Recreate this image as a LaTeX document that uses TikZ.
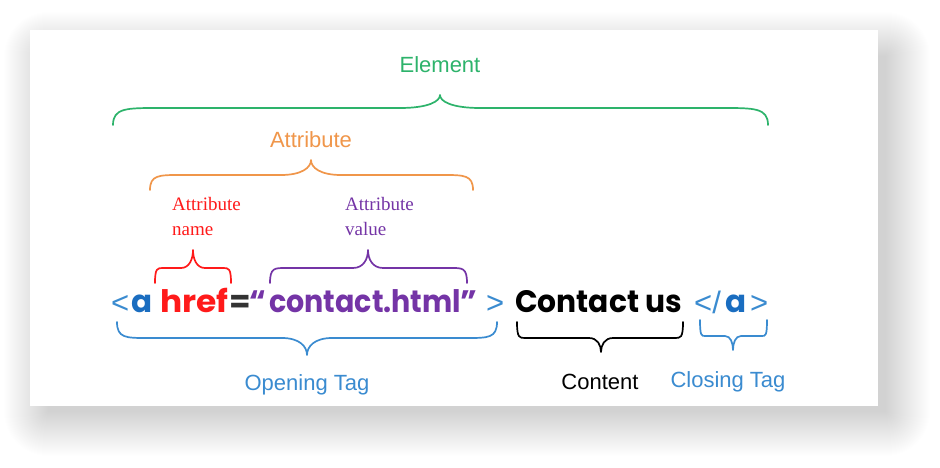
\documentclass[tikz,border=0pt]{standalone}
\usepackage{fontspec}
\setmainfont{Liberation Sans}
\newfontfamily\geo{Poppins}
\newfontfamily\serifx{Liberation Serif}
\definecolor{cgreen}{HTML}{2DB36B}
\definecolor{corange}{HTML}{F0964A}
\definecolor{cred}{HTML}{FF1A1A}
\definecolor{cpurple}{HTML}{7434A6}
\definecolor{cblue}{HTML}{3A8BD0}
\definecolor{cdblue}{HTML}{1A6DC0}
\definecolor{cgray}{HTML}{333333}
% brace: x1, x2, xtip, yend, ymid, ytip, r (end curve), s (tip curve)
\newcommand{\mybrace}[9][]{%
  \draw[#1] ({#2},{#5}) .. controls ({#2},{#6}) and ({#2+0.3*#8},{#6}) .. ({#2+#8},{#6})
    -- ({#4-#9},{#6}) .. controls ({#4-0.3*#9},{#6}) and ({#4},{0.5*#6+0.5*#7}) .. ({#4},{#7})
    .. controls ({#4},{0.5*#6+0.5*#7}) and ({#4+0.3*#9},{#6}) .. ({#4+#9},{#6})
    -- ({#3-#8},{#6}) .. controls ({#3-0.3*#8},{#6}) and ({#3},{#6}) .. ({#3},{#5});}
\tikzset{
  brc/.style={line width=1.7pt, line cap=round, line join=round},
  lbl/.style={font=\fontsize{22}{22}\selectfont, inner sep=0pt},
  slbl/.style={font=\serifx\fontsize{19}{24}\selectfont, inner sep=0pt, anchor=base west},
  code/.style={font=\geo\bfseries\fontsize{31}{31}\selectfont, inner sep=0pt, anchor=base west},
  codel/.style={font=\fontsize{31}{31}\selectfont, inner sep=0pt, anchor=base west},
}
\begin{document}
\begin{tikzpicture}[x=1pt,y=-1pt]
\useasboundingbox (0,0) rectangle (940,468);
\fill[white] (0,0) rectangle (940,468);
% shadow
\foreach \i in {0,1,...,44} {
  \fill[black, fill opacity=0.0055, rounded corners={\i*1pt+0.1pt}] ({48-\i},{56-\i}) rectangle ({886+\i},{412+\i});
}
% card
\fill[white] (30,30) rectangle (878,406);
% top labels
\node[lbl, text=cgreen] (element) at (440,65) {Element};
\mybrace[brc, draw=cgreen]{113}{768}{440}{125}{108}{95}{45}{40}
\node[lbl, text=corange] (attribute) at (311,140) {Attribute};
\mybrace[brc, draw=corange]{150}{473}{311}{190}{175}{160}{30}{30}
\node[slbl, text=cred] (aname1) at (172,211) {Attribute};
\node[slbl, text=cred] (aname2) at (172,235) {name};
\node[slbl, text=cpurple] (avalue1) at (345,211) {Attribute};
\node[slbl, text=cpurple] (avalue2) at (345,235) {value};
\mybrace[brc, draw=cred]{155}{231}{193}{283}{268}{250}{8}{12}
\mybrace[brc, draw=cpurple]{270}{467}{368}{283}{268}{250}{15}{15}
% code line
\node[codel, text=cblue] (lt) at (111,313) {<};
\node[code, text=cdblue] (a1) at (131,312) {a};
\node[code, text=cred] (href) at (160,312) {\scalebox{1.06}[1]{href}};
\node[code, text=cgray] (eq) at (229,312) {=};
\node[code, text=cpurple] (q1) at (249,312) {“};
\node[code, text=cpurple] (val) at (269,312) {\scalebox{0.92}[1]{contact.html}};
\node[code, text=cpurple] (q2) at (460,312) {”};
\node[codel, text=cblue] (gt) at (486,313) {>};
\node[code, text=black] (content) at (515,312) {\scalebox{0.96}[1]{Contact us}};
\node[codel, text=cblue] (lt2) at (694,313) {</};
\node[code, text=cdblue] (a2) at (725,312) {a};
\node[codel, text=cblue] (gt2) at (750,313) {>};
% bottom braces
\mybrace[brc, draw=cblue]{117}{497}{307}{322}{338}{355}{30}{25}
\mybrace[brc, draw=black]{517}{683}{601}{322}{338}{352}{8}{12}
\mybrace[brc, draw=cblue]{700}{767}{733}{320}{336}{350}{5}{8}
\node[lbl, text=cblue] (opening) at (307,385) {Opening Tag};
\node[lbl, text=black] (contentlbl) at (600,382) {Content};
\node[lbl, text=cblue] (closing) at (728,382) {Closing Tag};
\end{tikzpicture}
\end{document}
